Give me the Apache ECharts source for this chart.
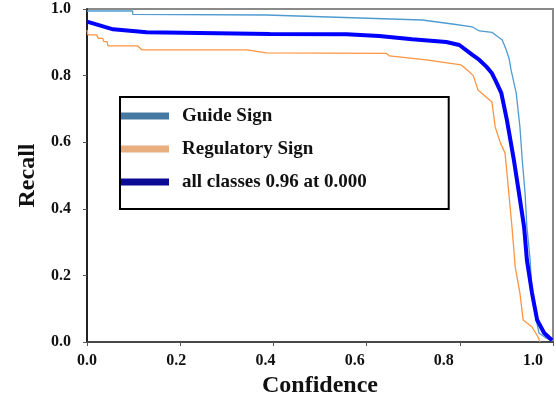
<!DOCTYPE html>
<html>
<head>
<meta charset="utf-8">
<script src="https://cdn.jsdelivr.net/npm/echarts@6/dist/echarts.min.js"></script>
<style>
    html, body { margin: 0; padding: 0; background: #fff; }
    #chart { width: 556px; height: 404px; }
</style>
</head>
<body>
<div id="chart"></div>
<script>
// 数据
const series_names = ["Guide Sign", "Regulatory Sign", "all classes 0.96 at 0.000"];
const tick_labels = ["0.0", "0.2", "0.4", "0.6", "0.8", "1.0"];

const guide_x = [0.000, 0.098, 0.098, 0.385, 0.385, 0.719, 0.784, 0.827, 0.842, 0.869, 0.891, 0.899, 0.906, 0.910, 0.921, 0.929, 0.934, 0.940, 0.944, 0.951, 0.955, 0.964, 0.970, 0.985, 0.998];
const guide_y = [0.994, 0.994, 0.984, 0.982, 0.979, 0.967, 0.955, 0.946, 0.934, 0.930, 0.907, 0.880, 0.850, 0.817, 0.748, 0.646, 0.547, 0.447, 0.345, 0.246, 0.147, 0.066, 0.027, 0.012, 0.003];

const reg_x = [0.000, 0.002, 0.021, 0.024, 0.034, 0.036, 0.043, 0.045, 0.109, 0.118, 0.343, 0.385, 0.642, 0.649, 0.728, 0.803, 0.816, 0.829, 0.839, 0.869, 0.876, 0.887, 0.897, 0.904, 0.912, 0.919, 0.929, 0.936, 0.955, 0.968, 0.972];
const reg_y = [0.937, 0.922, 0.922, 0.912, 0.912, 0.902, 0.902, 0.889, 0.889, 0.877, 0.877, 0.868, 0.867, 0.859, 0.847, 0.832, 0.817, 0.800, 0.757, 0.721, 0.646, 0.598, 0.568, 0.465, 0.345, 0.225, 0.147, 0.066, 0.045, 0.015, 0.000];

const all_x = [0.000, 0.056, 0.128, 0.392, 0.557, 0.627, 0.698, 0.771, 0.799, 0.827, 0.842, 0.857, 0.869, 0.876, 0.889, 0.901, 0.916, 0.927, 0.938, 0.944, 0.955, 0.966, 0.981, 0.998];
const all_y = [0.962, 0.939, 0.930, 0.925, 0.924, 0.919, 0.909, 0.901, 0.892, 0.862, 0.847, 0.827, 0.807, 0.787, 0.748, 0.667, 0.547, 0.447, 0.345, 0.246, 0.147, 0.066, 0.027, 0.005];

function pairs(xs, ys) {
    return xs.map(function (x, i) { return [x, ys[i]]; });
}

const font = "'Liberation Serif', 'DejaVu Serif', serif";

(function () {
    const my_echart = echarts.init(document.getElementById("chart"));
    let option = {
        animation: false,
        grid: {
            left: 87, right: 2, top: 9, bottom: 62,
            show: true,
            borderColor: '#8a8a8a',
            borderWidth: 2
        },
        legend: {
            orient: 'vertical',
            left: 120, top: 97,
            icon: 'rect',
            itemWidth: 48, itemHeight: 7,
            itemGap: 13,
            padding: [9, 82, 17, 1],
            backgroundColor: '#fff',
            borderColor: '#000',
            borderWidth: 2,
            borderRadius: 0,
            textStyle: { fontFamily: font, fontWeight: 'bold', fontSize: 19, color: '#111', lineHeight: 20, padding: [0, 0, 0, 8] },
            data: [
                { name: series_names[0], itemStyle: { color: '#4679a2' } },
                { name: series_names[1], itemStyle: { color: '#e9ae7e' } },
                { name: series_names[2], itemStyle: { color: '#0a0a95' } }
            ]
        },
        xAxis: [
            {
                type: 'value', min: 0, max: 1, interval: 0.2,
                name: 'Confidence', nameLocation: 'middle', nameGap: 32,
                nameTextStyle: { fontFamily: font, fontWeight: 'bold', fontSize: 24, color: '#111' },
                axisLine: { lineStyle: { color: '#333', width: 1.5 } },
                axisTick: { show: true, length: 4, lineStyle: { color: '#555' } },
                axisLabel: { show: false },
                splitLine: { show: false }
            },
            {
                // 刻度文字（原图文字与刻度略有错位）
                type: 'value', min: 0, max: 1.0447, interval: 0.2, position: 'bottom',
                axisLine: { show: false }, axisTick: { show: false }, splitLine: { show: false },
                axisLabel: {
                    margin: 11,
                    fontFamily: font, fontWeight: 'bold', fontSize: 16, color: '#111',
                    formatter: function (v) {
                        const i = Math.round(v / 0.2);
                        return Math.abs(v - i * 0.2) < 1e-6 ? tick_labels[i] : '';
                    }
                }
            }
        ],
        yAxis: {
            type: 'value', min: 0, max: 1, interval: 0.2,
            name: 'Recall', nameLocation: 'middle', nameGap: 47, nameRotate: 90,
            nameTextStyle: { fontFamily: font, fontWeight: 'bold', fontSize: 24, color: '#111' },
            axisLine: { show: true, lineStyle: { color: '#000', width: 1.5 } },
            axisTick: { show: true, length: 4, lineStyle: { color: '#555' } },
            axisLabel: {
                margin: 16,
                fontFamily: font, fontWeight: 'bold', fontSize: 16, color: '#111',
                formatter: function (v) { return tick_labels[Math.round(v / 0.2)]; }
            },
            splitLine: { show: false }
        },
        series: [
            {
                name: series_names[0], type: 'line', xAxisIndex: 0, showSymbol: false,
                data: pairs(guide_x, guide_y),
                lineStyle: { color: '#4f9bd0', width: 1.3 },
                itemStyle: { color: '#4f9bd0' }
            },
            {
                name: series_names[1], type: 'line', xAxisIndex: 0, showSymbol: false,
                data: pairs(reg_x, reg_y),
                lineStyle: { color: '#ff9442', width: 1.3 },
                itemStyle: { color: '#ff9442' }
            },
            {
                name: series_names[2], type: 'line', xAxisIndex: 0, showSymbol: false,
                data: pairs(all_x, all_y),
                lineStyle: { color: '#0000ff', width: 4 },
                itemStyle: { color: '#0000ff' },
                z: 3
            }
        ]
    };
    my_echart.setOption(option);
    window.addEventListener("resize", function () {
        my_echart.resize();
    });
})();
</script>
</body>
</html>
